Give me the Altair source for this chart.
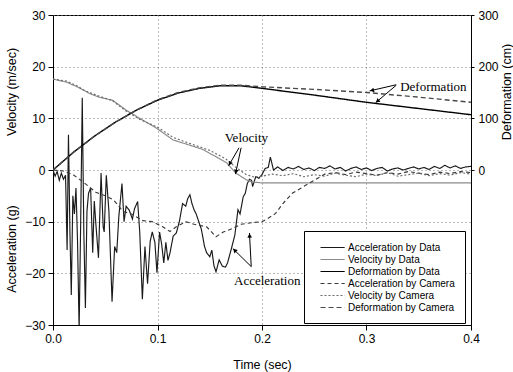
import math
import altair as alt
import pandas as pd

# ---------------- data ----------------
acc_data_t = [0.000, 0.002, 0.004, 0.006, 0.008, 0.010, 0.012, 0.0135, 0.0148, 0.0162,
              0.0175, 0.019, 0.0205, 0.022, 0.0235, 0.025, 0.0265, 0.028, 0.0295, 0.031,
              0.0325, 0.034, 0.036, 0.038, 0.0395, 0.041, 0.0435, 0.046, 0.048, 0.049,
              0.051, 0.0535, 0.0565, 0.059, 0.061, 0.063, 0.066, 0.068, 0.070, 0.073,
              0.076, 0.078, 0.081, 0.083, 0.0855, 0.088, 0.0905, 0.093, 0.095, 0.0975,
              0.0995, 0.102, 0.104, 0.106, 0.108, 0.110, 0.112, 0.115, 0.118, 0.121,
              0.124, 0.127, 0.129, 0.131, 0.133, 0.135, 0.137, 0.140, 0.142, 0.145,
              0.147, 0.150, 0.152, 0.154, 0.156, 0.159, 0.162, 0.165, 0.167, 0.169,
              0.171, 0.174, 0.177, 0.179, 0.182, 0.184, 0.186, 0.188, 0.190, 0.191,
              0.194, 0.197, 0.200, 0.203, 0.206, 0.208, 0.211,
              0.215, 0.220, 0.225, 0.230, 0.235, 0.240, 0.245, 0.250, 0.255, 0.260,
              0.265, 0.270, 0.275, 0.280, 0.285, 0.290, 0.295, 0.300, 0.305, 0.310,
              0.315, 0.320, 0.325, 0.330, 0.335, 0.340, 0.345, 0.350, 0.355, 0.360,
              0.365, 0.370, 0.375, 0.380, 0.385, 0.390, 0.395, 0.400]
acc_data_v = [0.0, -1.2, -0.3, -2.0, -0.6, -1.8, -1.0, -15.5, 6.8, -12.0,
              -24.2, -5.0, -8.5, -3.5, -14.0, -31.0, -10.0, 14.0, -12.0, -26.7,
              -8.0, -4.5, -3.5, -16.0, -6.0, -10.4, -17.0, -0.6, -11.0, -12.0,
              -1.0, -8.0, -25.5, -14.8, -16.0, -9.0, -2.6, -10.0, -7.0, -7.8,
              -9.5, -7.5, -6.1, -12.0, -25.0, -14.8, -22.0, -13.8, -12.0, -14.0,
              -19.9, -12.0, -14.4, -18.0, -14.0, -17.5, -16.0, -12.8, -12.2, -9.9,
              -6.5, -7.0, -5.5, -4.8, -6.5, -7.7, -8.5, -10.3, -11.5, -14.8,
              -16.0, -16.8, -15.5, -18.5, -19.7, -17.4, -18.6, -18.8, -18.0, -16.5,
              -15.0, -12.6, -7.7, -8.5, -5.2, -4.5, -2.6, -1.8, -2.0, -3.2,
              -1.3, -1.6, -0.9, 0.3, 0.5, 2.5, 0.0,
              0.6, -0.1, 0.5, 0.2, 0.7, 0.1, 0.4, -0.1, 0.5, 0.3,
              0.8, 0.2, 0.5, -0.2, 0.3, 0.6, 0.1, 0.4, -0.1, 0.3,
              0.5, -0.2, 0.2, 0.4, 0.0, 0.3, 0.6, 0.2, 0.5, 0.1,
              0.7, 0.3, 0.9, 0.4, 0.8, 0.3, 0.6, 0.7]

vel_data_t = [0.0, 0.013, 0.022, 0.028, 0.035, 0.044, 0.057, 0.070, 0.083, 0.099, 0.115,
              0.131, 0.143, 0.153, 0.166, 0.175, 0.185, 0.190, 0.200, 0.250, 0.300, 0.350, 0.400]
vel_data_v = [17.6, 17.0, 16.2, 15.6, 14.8, 14.1, 13.5, 11.6, 10.0, 8.1, 5.8,
              4.8, 4.0, 2.9, 1.4, -0.6, -1.9, -2.3, -2.5, -2.5, -2.5, -2.5, -2.5]

def_data_t = [0.0, 0.02, 0.04, 0.06, 0.08, 0.10, 0.12, 0.14, 0.16, 0.18, 0.20, 0.25, 0.30, 0.35, 0.40]
def_data_v = [0, 35, 66, 93, 116, 135, 149, 158, 163, 163, 158, 145, 131, 119, 107]

acc_cam_t = [0.0, 0.01, 0.02, 0.03, 0.041, 0.05, 0.058, 0.067, 0.075, 0.086,
             0.095, 0.10, 0.105, 0.112, 0.118, 0.127, 0.135, 0.147, 0.156, 0.163,
             0.172, 0.18, 0.19, 0.20, 0.207, 0.213, 0.22, 0.229, 0.239, 0.25,
             0.26, 0.27, 0.28, 0.29, 0.30, 0.31, 0.32, 0.33, 0.34, 0.35,
             0.36, 0.37, 0.38, 0.39, 0.40]
acc_cam_v = [0.0, -0.2, -1.0, -2.5, -4.3, -5.0, -5.8, -8.0, -8.5, -9.8,
             -10.0, -10.5, -11.0, -11.9, -11.0, -10.0, -10.5, -11.0, -12.9, -12.0,
             -11.3, -10.5, -10.2, -10.0, -9.2, -8.4, -6.5, -4.5, -3.3, -2.0,
             -0.8, -0.5, -0.9, -0.4, -0.7, -1.0, -0.5, -0.8, -0.3, -0.6,
             -0.9, -0.4, -0.7, -0.3, -0.5]

vel_cam_t = [0.0, 0.013, 0.022, 0.03, 0.044, 0.057, 0.07, 0.083, 0.10, 0.115,
             0.13, 0.15, 0.165, 0.175, 0.185, 0.193, 0.20, 0.21, 0.22, 0.23,
             0.24, 0.25, 0.26, 0.27, 0.28, 0.29, 0.30, 0.31, 0.32, 0.33,
             0.34, 0.35, 0.36, 0.37, 0.38, 0.39, 0.40]
vel_cam_v = [17.6, 17.2, 16.4, 15.4, 14.3, 13.4, 11.4, 9.8, 8.3, 6.3,
             5.2, 3.8, 2.2, 0.5, -0.9, -1.4, -1.2, -0.8, -1.1, -0.7,
             -1.3, -0.9, -1.2, -0.6, -1.0, -1.3, -0.8, -1.1, -0.5, -1.2,
             -0.9, -0.6, -1.1, -0.7, -1.0, -0.5, -0.8]

def_cam_t = [0.0, 0.02, 0.04, 0.06, 0.08, 0.10, 0.12, 0.14, 0.16, 0.18, 0.20, 0.25, 0.30, 0.35, 0.40]
def_cam_v = [0, 35, 66, 93, 116, 136, 150, 159, 164, 164, 161, 156, 150, 141, 131]

series_names = ["Acceleration by Data", "Velocity by Data", "Deformation by Data",
                "Acceleration by Camera", "Velocity by Camera", "Deformation by Camera"]
series_colors = ["#1a1a1a", "#8a8a8a", "#000000", "#3a3a3a", "#6a6a6a", "#4a4a4a"]
series_dashes = [[1, 0], [1, 0], [1, 0], [4, 3], [2, 2], [5, 3]]

ann_labels = ["Velocity", "Deformation", "Acceleration"]
ann_t = [0.185, 0.364, 0.205]
ann_v = [6.2, 16.0, -21.5]

arrow_t1 = [0.178, 0.180, 0.3284, 0.3284, 0.1897, 0.1897]
arrow_v1 = [4.3, 4.3, 16.5, 16.4, -18.7, -18.7]
arrow_t2 = [0.168, 0.1746, 0.3029, 0.3086, 0.1721, 0.188]
arrow_v2 = [0.8, -0.8, 15.3, 13.0, -15.2, -12.2]

# ---------------- layout ----------------
W, H = 418, 310
X_DOM = [0, 0.4]
YL_DOM = [-30, 30]
YR_DOM = [-300, 300]
FONT = "Liberation Sans"
SERIF = "Liberation Serif"


def frame(ts, vs, name):
    return pd.DataFrame({"t": ts, "v": vs, "series": name})


left_df = pd.concat([
    frame(acc_data_t, acc_data_v, series_names[0]),
    frame(vel_data_t, vel_data_v, series_names[1]),
    frame(acc_cam_t, acc_cam_v, series_names[3]),
    frame(vel_cam_t, vel_cam_v, series_names[4]),
], ignore_index=True)
right_df = pd.concat([
    frame(def_data_t, def_data_v, series_names[2]),
    frame(def_cam_t, def_cam_v, series_names[5]),
], ignore_index=True)

x_enc = alt.X("t:Q", scale=alt.Scale(domain=X_DOM, nice=False, zero=False),
              axis=alt.Axis(values=[0, 0.1, 0.2, 0.3, 0.4], format=".1f", title="Time (sec)",
                            grid=True, gridDash=[1, 3], gridColor="#777777", tickSize=5,
                            labelPadding=3, titlePadding=14, labelFlush=False))
yl_scale = alt.Scale(domain=YL_DOM, nice=False, zero=False)
yl_axis = alt.Axis(values=[-30, -20, -10, 0, 10, 20, 30], format="d", title=None, grid=True,
                   gridDash=[1, 3], gridColor="#777777", tickSize=5, labelPadding=3,
                   labelFlush=False)
y_left = alt.Y("v:Q", scale=yl_scale, axis=yl_axis)

# short horizontal stroke symbol (custom path keeps rows compact)
legend = alt.Legend(orient="none", legendX=251, legendY=216, title=None,
                    strokeColor="black", fillColor="white", padding=10,
                    symbolType="M0,0H4.4", symbolSize=121, symbolStrokeWidth=1.2,
                    symbolFillColor="transparent",
                    labelFont=FONT, labelFontSize=10, labelColor="black",
                    rowPadding=-1, labelOffset=21)
color_enc = alt.Color("series:N", scale=alt.Scale(domain=series_names, range=series_colors),
                      legend=legend)
dash_enc = alt.StrokeDash("series:N", scale=alt.Scale(domain=series_names, range=series_dashes),
                          legend=legend)

left_lines = alt.Chart(left_df).mark_line(strokeWidth=1.15, clip=True).encode(
    x=x_enc, y=y_left, color=color_enc, strokeDash=dash_enc)

ann_df = pd.DataFrame({"t": ann_t, "v": ann_v, "label": ann_labels})
ann = alt.Chart(ann_df).mark_text(font=SERIF, fontSize=13, color="black").encode(
    x=x_enc, y=y_left, text="label:N")

arrow_df = pd.DataFrame({"t": arrow_t1, "v": arrow_v1, "t2": arrow_t2, "v2": arrow_v2})
arrows = alt.Chart(arrow_df).mark_rule(color="black", strokeWidth=1).encode(
    x=x_enc, y=y_left, x2="t2:Q", y2="v2:Q")

# arrow heads: direction computed in pixel space
px_t = W / (X_DOM[1] - X_DOM[0])
px_v = H / (YL_DOM[1] - YL_DOM[0])
head_t, head_v, head_a = [], [], []
for t1, v1, t2, v2 in zip(arrow_t1, arrow_v1, arrow_t2, arrow_v2):
    dx = (t2 - t1) * px_t
    dy = -(v2 - v1) * px_v
    L = math.hypot(dx, dy)
    ang = math.degrees(math.atan2(dx, -dy)) % 360
    back = 2.5
    head_t.append(t2 - dx / L * back / px_t)
    head_v.append(v2 + dy / L * back / px_v)
    head_a.append(ang)
head_df = pd.DataFrame({"t": head_t, "v": head_v, "ang": head_a})
heads = alt.Chart(head_df).mark_point(shape="triangle-up", filled=True, size=22,
                                      color="black", opacity=1).encode(
    x=x_enc, y=y_left, angle=alt.Angle("ang:Q", scale=None))

title_v = alt.Chart(pd.DataFrame({"label": ["Velocity (m/sec)"]})).mark_text(
    angle=270, font=FONT, fontSize=12.5, color="black").encode(
    text="label:N", x=alt.value(-41), y=alt.value(77))
title_a = alt.Chart(pd.DataFrame({"label": ["Acceleration (g)"]})).mark_text(
    angle=270, font=FONT, fontSize=12.5, color="black").encode(
    text="label:N", x=alt.value(-41), y=alt.value(234))
title_d = alt.Chart(pd.DataFrame({"label": ["Deformation (cm)"]})).mark_text(
    angle=270, font=FONT, fontSize=12.5, color="black").encode(
    text="label:N", x=alt.value(W + 36), y=alt.value(77))

right_lines = alt.Chart(right_df).mark_line(strokeWidth=1.4, clip=True).encode(
    x=x_enc,
    y=alt.Y("v:Q", scale=alt.Scale(domain=YR_DOM, nice=False, zero=False),
            axis=alt.Axis(orient="right", values=[0, 100, 200, 300], format="d", title=None,
                          grid=False, tickSize=3, labelPadding=4, labelFlush=False)),
    color=color_enc, strokeDash=dash_enc)

left_group = alt.layer(left_lines, arrows, heads, ann, title_v, title_a, title_d)

chart = alt.layer(left_group, right_lines).resolve_scale(y="independent").properties(
    width=W, height=H,
    padding={"left": 53, "top": 15, "right": 513 - 53 - W, "bottom": 372 - 15 - H},
    autosize=alt.AutoSizeParams(type="none"),
).configure_view(stroke="black", strokeWidth=1).configure_axis(
    labelFont=FONT, labelFontSize=12, labelColor="black", titleFont=FONT, titleFontSize=12.5,
    titleColor="black", titleFontWeight="normal", domainColor="black", tickColor="black",
)

chart.save("out.html", embed_options={"renderer": "svg", "actions": False})
